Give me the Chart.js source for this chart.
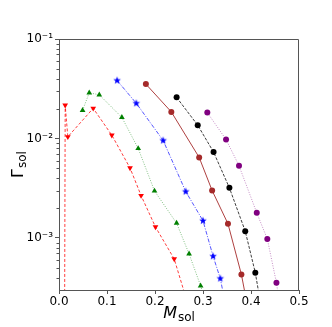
<!DOCTYPE html>
<html><head><meta charset="utf-8">
<script src="https://cdn.jsdelivr.net/npm/chart.js@4/dist/chart.umd.min.js"></script>
<style>html,body{margin:0;padding:0;background:#fff}#w{width:332px;height:327px}</style>
</head><body><div id="w"><canvas id="c"></canvas></div>
<script>
// Series: M_sol (x) and Gamma_sol (y)
const redX = [0.011, 0.0129, 0.0184, 0.0713, 0.110, 0.148, 0.171, 0.201, 0.240, 0.268];
const redY = [1e-5, 0.0216, 0.0104, 0.0201, 0.0108, 0.00505, 0.00267, 0.00129, 0.000616, 0.00022];
const greenX = [0.0491, 0.063, 0.0839, 0.131, 0.165, 0.199, 0.245, 0.271, 0.295, 0.315];
const greenY = [0.0192, 0.0288, 0.0275, 0.0163, 0.00794, 0.00297, 0.00141, 0.000692, 0.000331, 0.00016];
const blueX = [0.121, 0.161, 0.217, 0.264, 0.300, 0.321, 0.336, 0.350];
const blueY = [0.0383, 0.0226, 0.00955, 0.00293, 0.00149, 0.000656, 0.000392, 0.00018];
const brownX = [0.181, 0.234, 0.292, 0.319, 0.352, 0.380, 0.395];
const brownY = [0.0352, 0.0185, 0.00645, 0.00300, 0.00139, 0.00043, 0.00018];
const blackX = [0.245, 0.289, 0.322, 0.355, 0.388, 0.409, 0.423];
const blackY = [0.0259, 0.0136, 0.00730, 0.00319, 0.00117, 0.000447, 0.00018];
const purpleX = [0.309, 0.348, 0.375, 0.412, 0.434, 0.453, 0.462];
const purpleY = [0.0182, 0.00977, 0.00533, 0.00179, 0.000977, 0.000355, 0.00018];
const xTicks = [0.0, 0.1, 0.2, 0.3, 0.4, 0.5];
const yMajor = [1e-3, 1e-2, 1e-1];
const yLabels = ['10\u207B\u00B3', '10\u207B\u00B2', '10\u207B\u00B9'];
const xLabel = ['M', 'sol'];
const yLabel = ['\u0393', 'sol'];

const pts = (xs, ys) => xs.map((x, i) => ({x, y: ys[i]}));

function starImg(color, r) {
  const s = Math.ceil(r * 2 + 2), c = document.createElement('canvas');
  c.width = s; c.height = s;
  const g = c.getContext('2d');
  g.fillStyle = color; g.beginPath();
  for (let i = 0; i < 10; i++) {
    const a = -Math.PI / 2 + i * Math.PI / 5, rr = i % 2 ? r * 0.42 : r;
    g.lineTo(s / 2 + rr * Math.cos(a), s / 2 + rr * Math.sin(a));
  }
  g.closePath(); g.fill();
  return c;
}

const DS = (label, xs, ys, color, lineColor, dash, style, extra) => Object.assign({
  label, data: pts(xs, ys), showLine: true, borderColor: lineColor, backgroundColor: color,
  borderWidth: 0.9, borderDash: dash, pointStyle: style, pointRadius: 3,
  pointBackgroundColor: color, pointBorderColor: color, pointBorderWidth: 0
}, extra || {});

const minorVals = [];
for (let e = -4; e <= -2; e++) for (let k = 2; k <= 9; k++) minorVals.push(k * Math.pow(10, e));

const deco = {
  id: 'deco',
  afterDraw(chart) {
    const ctx = chart.ctx, a = chart.chartArea, ys = chart.scales.y;
    ctx.save();
    ctx.strokeStyle = '#555'; ctx.lineWidth = 1;
    ctx.beginPath();
    ctx.moveTo(a.left + 0.5, a.top + 0.5); ctx.lineTo(a.right - 0.5, a.top + 0.5);
    ctx.lineTo(a.right - 0.5, a.bottom); ctx.stroke();
    ctx.beginPath();
    minorVals.forEach(v => {
      const p = ys.getPixelForValue(v);
      if (p > a.top && p < a.bottom) { const yy = Math.round(p) + 0.5; ctx.moveTo(a.left - 2.5, yy); ctx.lineTo(a.left, yy); }
    });
    ctx.stroke();
    ctx.fillStyle = '#000';
    ctx.textBaseline = 'alphabetic';
    // x title
    ctx.font = 'italic 16px "DejaVu Sans"';
    const mw = ctx.measureText(xLabel[0]).width;
    ctx.font = '12px "DejaVu Sans"';
    const sw = ctx.measureText(xLabel[1]).width;
    const cx = (a.left + a.right) / 2, x0 = cx - (mw + sw + 1) / 2;
    ctx.font = 'italic 16px "DejaVu Sans"';
    ctx.fillText(xLabel[0], x0, 318);
    ctx.font = '12px "DejaVu Sans"';
    ctx.fillText(xLabel[1], x0 + mw + 1, 321);
    // y title
    ctx.translate(23, (a.top + a.bottom) / 2);
    ctx.rotate(-Math.PI / 2);
    ctx.font = '16px "DejaVu Sans"';
    const gw = ctx.measureText(yLabel[0]).width;
    ctx.font = '12px "DejaVu Sans"';
    const sw2 = ctx.measureText(yLabel[1]).width;
    const y0 = -(gw + sw2 + 1) / 2;
    ctx.font = '16px "DejaVu Sans"';
    ctx.fillText(yLabel[0], y0, 0);
    ctx.font = '12px "DejaVu Sans"';
    ctx.fillText(yLabel[1], y0 + gw + 1, 3);
    ctx.restore();
  }
};

new Chart(document.getElementById('c'), {
  type: 'scatter',
  data: { datasets: [
    DS('red', redX, redY, '#ff0000', 'rgba(255,0,0,0.85)', [3, 2], 'triangle', {pointRotation: 180, pointRadius: 3.3}),
    DS('green', greenX, greenY, '#008000', 'rgba(0,128,0,0.55)', [1, 1.5], 'triangle', {pointRadius: 3.3}),
    DS('blue', blueX, blueY, '#0000ff', 'rgba(0,0,255,0.75)', [4, 1.5, 1, 1.5], starImg('#0000ff', 4)),
    DS('brown', brownX, brownY, '#a52a2a', '#a52a2a', [], 'circle'),
    DS('black', blackX, blackY, '#000000', 'rgba(0,0,0,0.85)', [3, 1.5], 'circle'),
    DS('purple', purpleX, purpleY, '#800080', 'rgba(128,0,128,0.5)', [1, 1.5], 'circle')
  ]},
  options: {
    responsive: true, maintainAspectRatio: false, animation: false,
    layout: { padding: { top: 39, right: 33, left: 0, bottom: 0 } },
    plugins: { legend: { display: false }, tooltip: { enabled: false } },
    scales: {
      x: {
        type: 'linear', min: 0, max: 0.5,
        afterBuildTicks: s => { s.ticks = xTicks.map(v => ({value: v})); },
        afterFit: s => { s.height = 37; },
        ticks: { callback: v => v.toFixed(1), color: '#000', font: { family: 'DejaVu Sans', size: 12 }, padding: 1, maxRotation: 0 },
        grid: { drawOnChartArea: false, drawTicks: true, tickLength: 4, color: '#555' },
        border: { display: true, color: '#555', width: 1 }
      },
      y: {
        type: 'logarithmic', min: 3.1e-4, max: 0.1,
        afterBuildTicks: s => { s.ticks = yMajor.map(v => ({value: v})); },
        afterFit: s => { s.width = 59; },
        ticks: { callback: (v) => { const i = yMajor.findIndex(m => Math.abs(m - v) / m < 1e-6); return i >= 0 ? yLabels[i] : ''; },
          color: '#000', font: { family: 'DejaVu Sans', size: 12 }, padding: 2 },
        grid: { drawOnChartArea: false, drawTicks: true, tickLength: 4, color: '#555' },
        border: { display: true, color: '#555', width: 1 }
      }
    }
  },
  plugins: [deco]
});
</script></body></html>
